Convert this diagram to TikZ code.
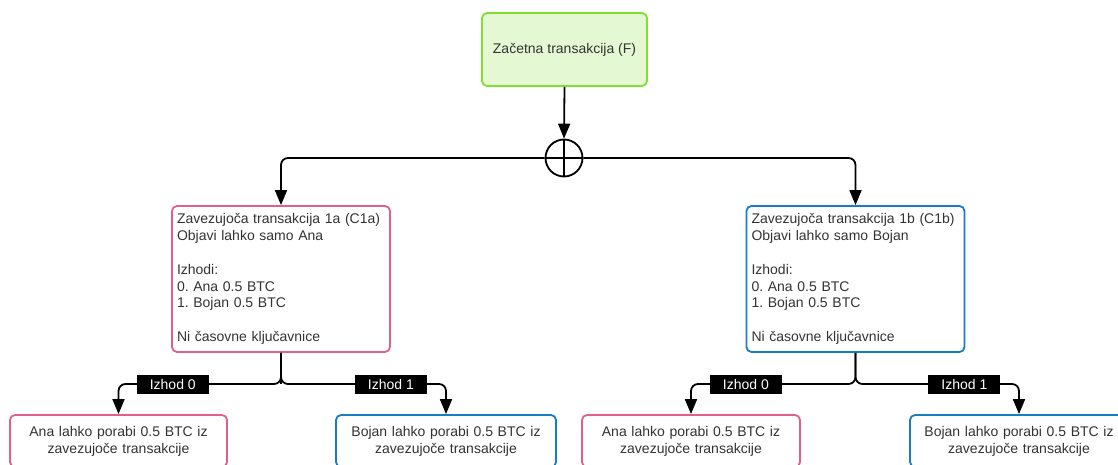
\documentclass[tikz,border=0pt]{standalone}
\usepackage{fontspec}
\setmainfont{Liberation Sans}
\usetikzlibrary{arrows.meta}
\frenchspacing
\definecolor{txt}{HTML}{333333}
\definecolor{gfill}{HTML}{E4F9D3}
\definecolor{gdraw}{HTML}{80E030}
\definecolor{pinkb}{HTML}{E0608C}
\definecolor{blueb}{HTML}{1A7DC4}
\tikzset{
  base/.style={rounded corners=5pt, line width=1.8pt, font=\fontsize{14}{16.8}\selectfont, text=txt, inner sep=0pt, fill=white},
  startbox/.style={base, draw=gdraw, fill=gfill, minimum width=165pt, minimum height=73pt},
  pinkbox/.style={base, draw=pinkb},
  bluebox/.style={base, draw=blueb},
  infobox/.style={minimum width=218pt, minimum height=146pt, text width=208pt, align=left},
  childbox/.style={minimum width=218pt, minimum height=52pt, text width=210pt, align=center},
  conn/.style={line width=1.8pt, rounded corners=7pt, -{Triangle[length=15pt,width=12pt]}},
  plain/.style={line width=1.8pt, rounded corners=7pt},
  lbl/.style={fill=black, text=white, font=\fontsize{14}{16}\selectfont, inner xsep=13pt, inner ysep=2pt, minimum height=19pt, rounded corners=0pt}
}
\begin{document}
\begin{tikzpicture}[x=1pt,y=-1pt]
\useasboundingbox (0,0) rectangle (1118,465);
\clip (0,0) rectangle (1118,465);

\node[startbox] (F) at (564.5,49.5) {Začetna transakcija (F)};
\node[circle, draw, line width=1.8pt, fill=white, minimum size=37pt, inner sep=0pt] (X) at (564,158) {};

\node[pinkbox, infobox] (C1a) at (281,279) {Zavezujoča transakcija 1a (C1a)\\Objavi lahko samo Ana\\[16.8pt]Izhodi:\\0. Ana 0.5 BTC\\1. Bojan 0.5 BTC\\[16.8pt]Ni časovne ključavnice};
\node[bluebox, infobox] (C1b) at (855.5,279) {Zavezujoča transakcija 1b (C1b)\\Objavi lahko samo Bojan\\[16.8pt]Izhodi:\\0. Ana 0.5 BTC\\1. Bojan 0.5 BTC\\[16.8pt]Ni časovne ključavnice};

\node[pinkbox, childbox, minimum width=217pt] (A0) at (118.5,441) {Ana lahko porabi 0.5 BTC iz\\zavezujoče transakcije};
\node[bluebox, childbox, minimum width=220pt] (A1) at (446,441) {Bojan lahko porabi 0.5 BTC iz\\zavezujoče transakcije};
\node[pinkbox, childbox] (B0) at (691,441) {Ana lahko porabi 0.5 BTC iz\\zavezujoče transakcije};
\node[bluebox, childbox] (B1) at (1019,441) {Bojan lahko porabi 0.5 BTC iz\\zavezujoče transakcije};

\coordinate (jA) at (C1a.south |- 0,384);
\coordinate (jB) at (C1b.south |- 0,384);

\draw[conn] (F.south) -- (X.north);
\draw[line width=1.8pt] (X.north) -- (X.south) (X.west) -- (X.east);
\draw[conn] (X.west) -| (C1a.north);
\draw[conn] (X.east) -| (C1b.north);

\draw[plain] (C1a.south) -- (jA);
\draw[conn] (C1a.south) -- (jA) -| node[lbl, pos=0.333] {Izhod 0} (A0.north);
\draw[conn] (C1a.south) -- (jA) -| node[lbl, pos=0.333] {Izhod 1} (A1.north);
\draw[conn] (C1b.south) -- (jB) -| node[lbl, pos=0.333] {Izhod 0} (B0.north);
\draw[conn] (C1b.south) -- (jB) -| node[lbl, pos=0.333] {Izhod 1} (B1.north);
\end{tikzpicture}
\end{document}
